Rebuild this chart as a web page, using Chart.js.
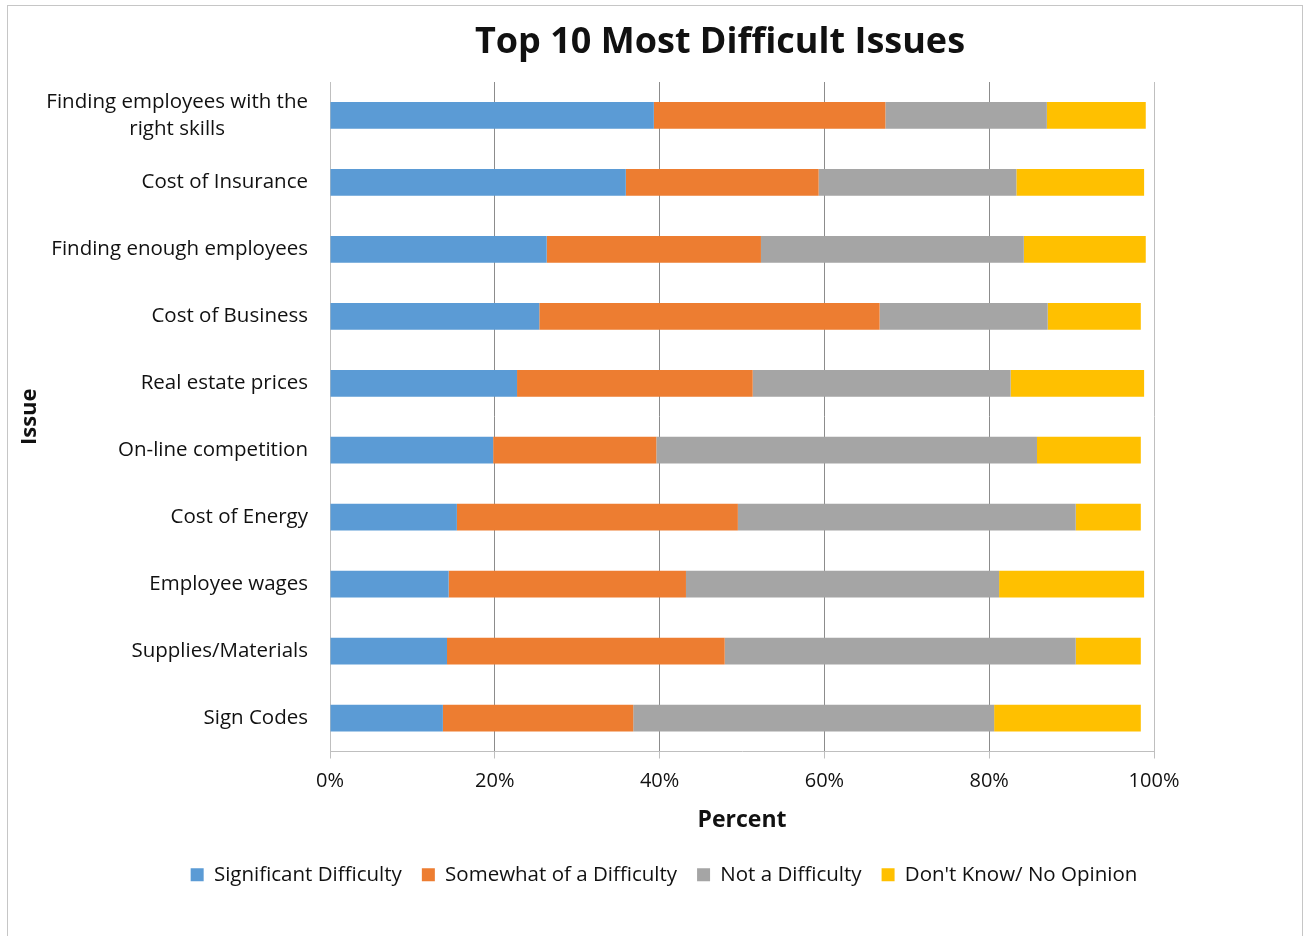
<!DOCTYPE html>
<html>
<head>
<meta charset="utf-8">
<title>Top 10 Most Difficult Issues</title>
<script src="https://cdn.jsdelivr.net/npm/chart.js@4.4.1/dist/chart.umd.min.js"></script>
<style>
  html, body { margin: 0; padding: 0; background: #fff; }
  #wrap { position: relative; width: 1304px; height: 936px; }
</style>
</head>
<body>
<div id="wrap"><canvas id="chart" width="1304" height="936"></canvas></div>
<script>
  // Survey results, percent of respondents per issue
  var issues = [
    ["Finding employees with the", "right skills"],
    "Cost of Insurance",
    "Finding enough employees",
    "Cost of Business",
    "Real estate prices",
    "On-line competition",
    "Cost of Energy",
    "Employee wages",
    "Supplies/Materials",
    "Sign Codes"
  ];
  var significant = [39.3, 35.9, 26.3, 25.4, 22.7, 19.8, 15.4, 14.4, 14.2, 13.7];
  var somewhat    = [28.1, 23.4, 26.0, 41.3, 28.6, 19.8, 34.1, 28.8, 33.7, 23.1];
  var notDiff     = [19.6, 24.0, 31.9, 20.4, 31.3, 46.2, 41.0, 38.0, 42.6, 43.8];
  var dontKnow    = [12.0, 15.5, 14.8, 11.3, 16.2, 12.6, 7.9, 17.6, 7.9, 17.8];
  var seriesNames = ["Significant Difficulty", "Somewhat of a Difficulty", "Not a Difficulty", "Don't Know/ No Opinion"];
  var seriesColors = ["#5b9bd5", "#ed7d31", "#a5a5a5", "#ffc000"];

  var FONT = "'Open Sans', Lato, sans-serif";
  var TEXT = "#111";

  // white page + thin outer frame
  var framePlugin = {
    id: "frame",
    beforeDraw: function (chart) {
      var c = chart.ctx;
      c.save();
      c.fillStyle = "#fff";
      c.fillRect(0, 0, chart.width, chart.height);
      c.strokeStyle = "#c6c6c6";
      c.lineWidth = 1;
      c.strokeRect(7.5, 5.5, 1295, 940);
      c.restore();
    }
  };

  // title sits over the plot rather than the whole canvas
  var titlePlugin = {
    id: "bigTitle",
    afterDraw: function (chart) {
      var c = chart.ctx;
      c.save();
      c.font = "bold 36px " + FONT;
      c.fillStyle = TEXT;
      c.textAlign = "center";
      c.textBaseline = "middle";
      c.fillText("Top 10 Most Difficult Issues", 720, 43);
      c.restore();
    }
  };

  // category labels: right edge fixed, wrapped lines centred on each other
  var issueLabels = {
    id: "issueLabels",
    afterDraw: function (chart) {
      var c = chart.ctx;
      var y = chart.scales.y;
      var right = y.right - 22;
      var lineH = 27;
      c.save();
      c.font = "20.5px " + FONT;
      c.fillStyle = TEXT;
      c.textBaseline = "middle";
      issues.forEach(function (lab, i) {
        var lines = Array.isArray(lab) ? lab : [lab];
        var w = Math.max.apply(null, lines.map(function (l) { return c.measureText(l).width; }));
        var cx = right - w / 2;
        var cy = y.getPixelForTick(i) - (lines.length - 1) * lineH / 2;
        c.textAlign = "center";
        lines.forEach(function (l, k) {
          c.fillText(l, cx, cy + k * lineH);
        });
      });
      c.restore();
    }
  };

  var datasets = [significant, somewhat, notDiff, dontKnow].map(function (vals, i) {
    return {
      label: seriesNames[i],
      data: vals,
      backgroundColor: seriesColors[i],
      borderWidth: 0,
      barPercentage: 0.4,
      categoryPercentage: 1.0
    };
  });

  new Chart(document.getElementById("chart"), {
    type: "bar",
    data: { labels: issues, datasets: datasets },
    options: {
      responsive: false,
      animation: false,
      indexAxis: "y",
      // left padding nudges the centred legend right; y axis width makes up for it
      layout: { padding: { top: 82, bottom: 41, left: 24, right: 0 } },
      scales: {
        x: {
          stacked: true,
          min: 0,
          max: 100,
          ticks: {
            stepSize: 20,
            padding: 11,
            color: TEXT,
            font: { family: FONT, size: 20 },
            callback: function (v) { return v + "%"; }
          },
          grid: {
            color: function (ctx) { return ctx.index === 5 ? "#bfbfbf" : "#8c8c8c"; },
            tickColor: "#bfbfbf",
            tickLength: 7
          },
          border: { display: true, color: "#bfbfbf" },
          title: {
            display: true,
            text: "Percent",
            color: TEXT,
            font: { family: FONT, size: 23, weight: "bold" },
            padding: { top: 0, bottom: 10 }
          },
          afterFit: function (s) { s.height = 93; }
        },
        y: {
          stacked: true,
          ticks: { display: false },
          grid: { display: false },
          border: { display: true, color: "#bfbfbf" },
          title: {
            display: true,
            text: "Issue",
            color: TEXT,
            font: { family: FONT, size: 22, weight: "bold" },
            padding: { top: -7, bottom: 0 }
          },
          afterFit: function (s) { s.width = 306; }
        },
        // empty right-hand gutter so the plot stops at 1154px
        gutter: {
          type: "linear",
          position: "right",
          display: true,
          ticks: { display: false },
          grid: { display: false },
          border: { display: false },
          afterFit: function (s) { s.width = 150; }
        }
      },
      plugins: {
        title: { display: false },
        tooltip: { enabled: false },
        legend: {
          position: "bottom",
          labels: {
            boxWidth: 13,
            boxHeight: 13,
            padding: 20,
            color: TEXT,
            font: { family: FONT, size: 20.5 }
          }
        }
      }
    },
    plugins: [framePlugin, titlePlugin, issueLabels]
  });
</script>
</body>
</html>
